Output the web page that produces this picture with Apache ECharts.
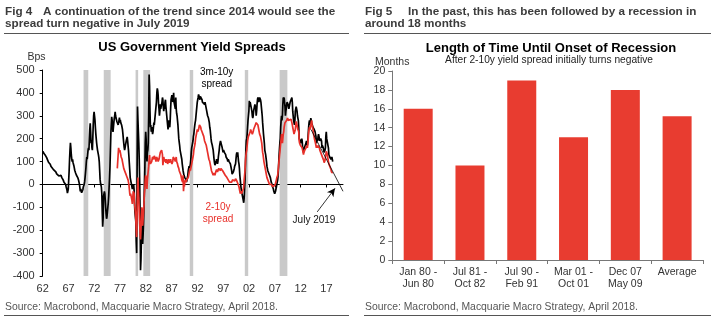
<!DOCTYPE html>
<html>
<head>
<meta charset="utf-8">
<script src="https://cdn.jsdelivr.net/npm/echarts@6/dist/echarts.min.js"></script>
<style>html,body{margin:0;padding:0;background:#fff}#c{width:716px;height:321px}</style>
</head>
<body>
<div id="c"></div>
<script>
// ---- Fig 4 data: monthly spreads (bps) ----
const start3m10y = 1962;          // January 1962, monthly
const spread3m10y = [
145,140,136,131,128,132,126,120,122,116,112,106,
100,97,94,96,92,88,82,78,77,74,70,68,
66,70,68,63,60,58,55,50,46,43,40,38,
40,37,35,42,38,34,40,35,30,28,25,20,
15,10,5,8,4,0,-10,-15,-25,-38,-30,-20,
20,60,110,150,182,160,130,112,100,110,96,90,
82,72,62,55,50,46,40,45,36,30,25,18,
10,0,-15,-30,-20,-25,-36,-30,-40,-22,-10,-5,
0,12,30,50,72,100,120,110,130,150,160,150,
200,240,267,230,180,193,160,150,200,260,300,317,
300,282,250,222,200,180,164,150,140,130,118,100,
62,22,5,0,-12,-40,-120,-185,-150,-52,-60,-30,
-40,-68,-100,-130,-150,-141,-120,-100,-80,-50,-10,30,
80,150,220,262,295,280,250,230,250,270,290,300,
317,300,290,282,275,268,266,260,270,280,292,270,
282,270,265,260,252,240,222,200,180,162,150,160,
172,182,192,200,208,192,170,150,122,92,62,30,
20,10,0,-10,-20,-15,-10,0,-22,-80,-120,-140,
-160,-250,-300,50,340,280,230,180,110,20,-120,-375,
-330,-250,-180,-200,-260,-220,-170,-100,-20,60,180,230,
200,130,100,140,150,180,300,480,430,320,250,260,
230,250,240,220,230,250,270,260,280,300,320,340,
360,400,420,410,390,350,330,300,320,350,330,340,
350,360,380,370,340,320,340,330,360,370,340,320,
300,280,260,240,260,280,260,250,280,330,370,380,
390,380,360,370,400,360,350,340,330,380,330,310,
300,280,260,230,200,185,170,150,140,130,120,110,
90,84,60,50,40,35,30,26,30,20,10,15,
30,40,60,70,80,70,80,90,110,140,160,170,
180,190,210,220,240,256,270,280,300,320,340,360,
370,380,393,390,380,370,385,380,390,380,370,360,
360,365,355,360,350,360,355,340,330,320,310,300,
300,290,280,270,250,240,220,200,185,180,170,160,
150,130,110,95,84,80,90,100,110,100,90,100,
120,128,150,170,180,190,185,175,180,160,150,140,
150,145,140,140,140,130,120,125,115,110,100,110,
110,100,100,95,90,80,70,60,45,40,50,55,
60,70,80,80,90,110,130,140,120,140,120,100,
90,70,40,20,0,-20,-30,-40,-50,-60,-70,-80,
-60,-20,20,80,150,190,200,220,250,280,300,320,
365,340,360,350,340,330,320,300,290,300,320,330,
340,350,345,330,300,320,350,370,380,370,360,370,
380,383,370,360,340,320,300,270,245,220,200,180,
150,140,130,115,100,80,70,60,55,50,45,40,
40,30,20,10,5,0,-10,-15,-20,-30,-35,-40,
-40,-30,-20,-10,0,10,20,40,75,120,150,180,
200,250,280,300,280,300,350,380,370,380,360,340,
300,320,330,350,360,365,350,340,330,340,350,360,
360,370,375,380,360,320,300,280,270,260,280,320,
330,340,330,320,300,290,280,250,200,200,190,180,
180,180,200,190,160,150,140,150,160,165,160,175,
180,190,190,170,190,220,250,270,280,260,270,290,
280,270,270,265,250,245,250,240,245,230,220,210,
180,190,200,190,210,220,210,200,190,195,200,200,
190,160,170,165,160,150,140,140,150,160,210,230,
200,200,180,170,160,130,130,120,120,120,110,110,
120,110,100
];
const start2y10y = 1976 + 5/12;   // June 1976, monthly
const spread2y10y = [
70,100,130,160,150,140,150,
145,130,120,120,110,100,90,85,70,62,60,55,
50,45,40,35,33,30,20,10,0,-20,-40,-50,
-40,-50,-60,-70,-85,-60,-30,-25,-40,-80,-100,-120,
-150,-200,-230,-120,-20,30,-20,-60,-120,-170,-210,-240,
-200,-150,-100,-120,-180,-150,-120,-90,-40,-20,20,40,
30,0,-20,20,40,60,80,110,128,100,90,85,
90,100,110,120,115,120,110,125,130,120,110,100,
120,125,115,110,100,95,110,120,130,140,135,140,
150,145,130,84,100,120,110,100,110,105,95,100,
110,105,90,85,100,110,95,90,100,110,100,95,
90,85,100,120,128,115,110,105,100,110,120,100,
95,90,80,85,70,60,55,50,45,40,30,20,
20,10,40,-30,0,-10,10,20,15,10,20,26,
20,26,30,40,50,60,70,60,70,80,90,100,
110,120,130,150,160,170,180,200,210,220,230,240,
230,235,240,250,260,265,260,250,240,235,230,225,
220,215,210,200,190,185,180,180,170,160,150,140,
130,120,110,110,100,90,80,70,60,55,50,45,
40,45,50,50,40,45,55,60,65,60,55,50,
60,70,75,70,65,60,70,75,70,65,60,55,
55,50,45,45,40,45,40,35,30,30,25,20,
20,15,10,10,15,10,5,10,15,20,25,20,
15,20,15,20,25,30,20,15,10,5,5,0,
-10,-20,-30,-40,-30,-35,-40,-40,-30,-35,-20,-10,
20,40,60,100,125,140,150,170,190,200,210,215,
220,225,230,240,245,240,235,220,215,230,240,245,
250,255,260,265,270,275,270,265,260,250,240,230,
220,215,210,200,190,180,160,140,130,115,100,90,
80,70,60,50,40,30,25,20,15,10,5,0,
0,-5,0,5,0,-5,-10,-15,-10,-15,-10,-5,
0,5,10,20,30,35,40,60,80,100,120,140,
160,180,200,220,200,180,200,220,230,250,260,270,
270,270,275,280,285,290,285,280,275,280,285,280,
280,285,280,270,260,250,240,230,220,215,220,240,
260,275,270,260,250,240,245,230,190,180,175,170,
170,165,165,160,150,140,130,140,145,150,145,150,
160,170,170,160,175,200,225,240,250,240,245,260,
270,280,260,250,240,225,215,205,195,190,180,170,
160,170,170,160,170,175,165,160,150,145,140,135,
140,125,120,115,110,105,95,100,105,110,130,145,
140,135,125,110,100,90,90,80,80,75,65,55,
55,60,50
];
const trendYears  = [2014.0, 2020.2];
const trendValues = [240, -30];
const recessions = [[1969.92,1970.83],[1973.83,1975.17],[1980.0,1980.5],[1981.5,1982.83],[1990.5,1991.17],[2001.17,2001.83],[2007.92,2009.42]];
const xTickYears = [1962,1967,1972,1977,1982,1987,1992,1997,2002,2007,2012,2017];
const yTicksLeft = {min:-400, max:500, step:100};

// ---- Fig 5 data ----
const recCategories = ['Jan 80 -\nJun 80','Jul 81 -\nOct 82','Jul 90 -\nFeb 91','Mar 01 -\nOct 01','Dec 07\nMay 09','Average'];
const recMonths = [16,10,19,13,18,15.2];
const yTicksRight = {min:0, max:20, step:2};

const FONT = 'Liberation Sans, Arial, Helvetica, sans-serif';
const toPairs = (start, arr) => arr.map((v,i) => [start + (i + 0.5)/12, v]);

const chart = echarts.init(document.getElementById('c'), null, {renderer:'canvas'});
const txt = (x,y,text,opt) => ({type:'text', x, y, style: Object.assign({text, font:'12px '+FONT, fill:'#333', textVerticalAlign:'middle', textAlign:'left'}, opt||{})});
const line = (x1,y1,x2,y2) => ({type:'line', shape:{x1,y1,x2,y2}, style:{stroke:'#555', lineWidth:1}});
const HF = 'bold 11.7px ' + FONT;

chart.setOption({
  animation:false,
  backgroundColor:'#fff',
  textStyle:{fontFamily:FONT},
  grid:[
    {left:42.7, right:373, top:70, bottom:45, containLabel:false},
    {left:392.3, right:13, top:71, bottom:61, containLabel:false}
  ],
  xAxis:[
    {type:'value', gridIndex:0, min:1962, max:2020.2,
     axisLine:{show:true, onZero:true, lineStyle:{color:'#000', width:1}},
     axisTick:{show:true, customValues:xTickYears, length:3, lineStyle:{color:'#000'}},
     axisLabel:{show:false}, splitLine:{show:false}},
    {type:'value', gridIndex:0, min:1962, max:2020.2, position:'bottom',
     axisLine:{show:false, onZero:false}, axisTick:{show:false}, splitLine:{show:false},
     axisLabel:{customValues:xTickYears, fontSize:11, color:'#333', margin:7,
       formatter:v => String(Math.round(v)%100).padStart(2,'0')}},
    {type:'category', gridIndex:1, data:recCategories,
     axisLine:{show:true, lineStyle:{color:'#777', width:1}},
     axisTick:{show:true, length:4, alignWithLabel:false, lineStyle:{color:'#777'}},
     axisLabel:{interval:0, fontSize:10.5, color:'#333', margin:6, lineHeight:12}}
  ],
  yAxis:[
    {type:'value', gridIndex:0, min:yTicksLeft.min, max:yTicksLeft.max, interval:yTicksLeft.step,
     axisLine:{show:true, lineStyle:{color:'#000', width:1}},
     axisTick:{show:true, length:3, lineStyle:{color:'#000'}},
     axisLabel:{fontSize:11, color:'#333', margin:8}, splitLine:{show:false}},
    {type:'value', gridIndex:1, min:yTicksRight.min, max:yTicksRight.max, interval:yTicksRight.step,
     axisLine:{show:true, lineStyle:{color:'#777', width:1}},
     axisTick:{show:true, length:4, lineStyle:{color:'#777'}},
     axisLabel:{fontSize:10.5, color:'#333', margin:7}, splitLine:{show:false}}
  ],
  series:[
    {type:'line', xAxisIndex:0, yAxisIndex:0, data:[], silent:true, z:1,
     markArea:{silent:true, itemStyle:{color:'#c9c9c9'},
       data: recessions.map(r => [{xAxis:r[0]},{xAxis:r[1]}])}},
    {name:'3m-10y', type:'line', xAxisIndex:0, yAxisIndex:0, data:toPairs(start3m10y, spread3m10y),
     showSymbol:false, symbol:'none', lineStyle:{color:'#000', width:1.7}, itemStyle:{color:'#000'}, z:3},
    {name:'2-10y', type:'line', xAxisIndex:0, yAxisIndex:0, data:toPairs(start2y10y, spread2y10y),
     showSymbol:false, symbol:'none', lineStyle:{color:'#e8302a', width:1.7}, itemStyle:{color:'#e8302a'}, z:4},
    {name:'trend', type:'line', xAxisIndex:0, yAxisIndex:0, data:trendYears.map((y,i)=>[y,trendValues[i]]),
     showSymbol:false, symbol:'none', lineStyle:{color:'#000', width:0.8}, z:5,
     markLine:{silent:true, symbol:['none','arrow'], symbolSize:[6,8], label:{show:false},
       lineStyle:{color:'#000', width:0.8, type:'solid'},
       data:[[{coord:[2015.2,-120]},{coord:[2018.65,-17]}]]}},
    {name:'months', type:'bar', xAxisIndex:2, yAxisIndex:1, data:recMonths, barWidth:29,
     itemStyle:{color:'#e83c30'}}
  ],
  graphic:[
    txt(5,11.7,'Fig 4',{font:HF, fill:'#3c3c3c'}),
    txt(43,11.7,'A continuation of the trend since 2014 would see the',{font:HF, fill:'#3c3c3c'}),
    txt(5,24,'spread turn negative in July 2019',{font:HF, fill:'#3c3c3c'}),
    txt(365,11.7,'Fig 5',{font:HF, fill:'#3c3c3c'}),
    txt(408,11.7,'In the past, this has been followed by a recession in',{font:HF, fill:'#3c3c3c'}),
    txt(365,24,'around 18 months',{font:HF, fill:'#3c3c3c'}),
    line(4,33.5,349,33.5), line(364,33.5,711,33.5),
    line(4,315.5,349,315.5), line(364,315.5,711,315.5),
    txt(5,307,'Source: Macrobond, Macquarie Macro Strategy, April 2018.',{font:'10.4px '+FONT, fill:'#555'}),
    txt(365,307,'Source: Macrobond, Macquarie Macro Strategy, April 2018.',{font:'10.4px '+FONT, fill:'#555'}),
    txt(192,47.5,'US Government Yield Spreads',{font:'bold 13px '+FONT, fill:'#000', textAlign:'center'}),
    txt(551,48,'Length of Time Until Onset of Recession',{font:'bold 13px '+FONT, fill:'#000', textAlign:'center'}),
    txt(549,60.5,'After 2-10y yield spread initially turns negative',{font:'10.2px '+FONT, fill:'#222', textAlign:'center'}),
    txt(36.5,57,'Bps',{font:'10.5px '+FONT, fill:'#333', textAlign:'center'}),
    txt(375,62.3,'Months',{font:'10.5px '+FONT, fill:'#333'}),
    txt(216.7,72.5,'3m-10y',{font:'10px '+FONT, fill:'#000', textAlign:'center'}),
    txt(216.7,84.3,'spread',{font:'10px '+FONT, fill:'#000', textAlign:'center'}),
    txt(218,207.5,'2-10y',{font:'10px '+FONT, fill:'#e8302a', textAlign:'center'}),
    txt(218,219.3,'spread',{font:'10px '+FONT, fill:'#e8302a', textAlign:'center'}),
    txt(314,220.7,'July 2019',{font:'10px '+FONT, fill:'#111', textAlign:'center'})
  ]
});
</script>
</body>
</html>
